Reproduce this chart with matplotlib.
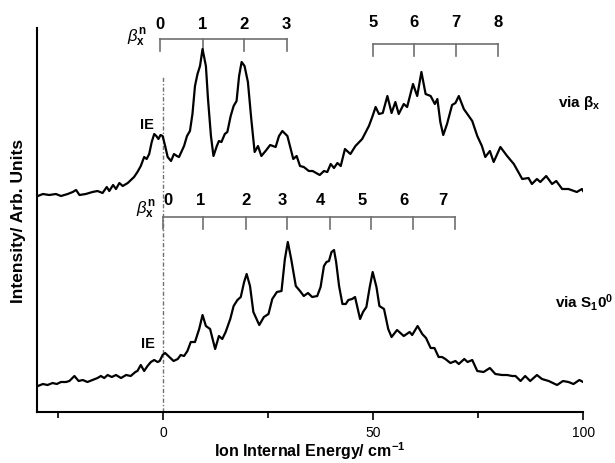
import numpy as np
import matplotlib.pyplot as plt

plt.rcParams["font.family"] = ["Liberation Sans", "DejaVu Sans"]
plt.rcParams["mathtext.fontset"] = "custom"
plt.rcParams["mathtext.rm"] = "Liberation Sans"
plt.rcParams["mathtext.it"] = "Liberation Sans:italic"
plt.rcParams["mathtext.bf"] = "Liberation Sans:bold"

# --- spectrum via beta_x (upper trace), energy in cm^-1, arbitrary intensity ---
via_bx_E = [-29.8, -28.6, -27.1, -25.5, -24.3, -22.7, -21.5, -20.7, -19.9, -18.4,
            -16.8, -15.6, -14.4, -13.4, -12.8, -11.9, -11.2, -10.4, -9.6, -8.4,
            -6.9, -6.1, -5.3, -4.5, -3.9, -3.3, -2.7, -2.1, -1.6, -1.1,
            -0.6, -0.1, 0.5, 1.1, 1.9, 2.6, 3.3, 3.8, 5.0, 5.7,
            6.4, 7.0, 7.6, 8.2, 8.8, 9.4, 10.2, 10.7, 11.4, 12.0,
            12.8, 13.3, 13.9, 14.7, 15.3, 16.1, 16.8, 17.5, 18.1, 18.7,
            19.4, 20.2, 21.0, 21.8, 22.6, 23.4, 24.4, 25.5, 26.8, 27.6,
            28.4, 29.6, 30.4, 31.0, 31.8, 32.6, 33.5, 34.7, 35.6, 37.3,
            38.3, 39.1, 39.9, 40.7, 41.5, 42.3, 43.3, 44.6, 45.8, 47.4,
            49.0, 49.8, 50.6, 51.4, 52.3, 53.4, 54.4, 55.3, 56.1, 57.3,
            58.1, 59.5, 60.5, 61.5, 62.5, 63.7, 64.7, 65.3, 66.0, 66.7,
            67.6, 68.8, 69.6, 70.4, 71.6, 73.6, 74.8, 75.9, 76.7, 77.8,
            78.7, 80.3, 81.9, 83.5, 85.5, 87.0, 87.8, 89.0, 89.8, 91.2,
            92.6, 93.6, 95.0, 96.5, 98.5, 99.7, 100.0]
via_bx_I = [216, 218, 217, 218, 216, 218, 220, 222, 217, 218,
            220, 221, 219, 225, 221, 227, 223, 229, 226, 229,
            235, 240, 246, 255, 253, 258, 270, 278, 276, 273,
            277, 276, 266, 255, 251, 258, 256, 255, 266, 276,
            281, 298, 326, 338, 346, 363, 346, 313, 276, 256,
            266, 271, 270, 278, 280, 296, 306, 311, 336, 350,
            346, 330, 293, 260, 266, 256, 261, 267, 265, 276,
            281, 276, 263, 253, 256, 246, 245, 241, 241, 237,
            241, 240, 248, 244, 249, 246, 263, 258, 266, 273,
            286, 295, 305, 298, 299, 316, 299, 310, 298, 308,
            305, 328, 316, 340, 318, 316, 308, 313, 290, 277,
            288, 307, 309, 316, 303, 291, 276, 266, 255, 261,
            250, 265, 256, 248, 233, 234, 228, 233, 230, 236,
            228, 231, 223, 223, 220, 223, 221]

# --- spectrum via S1 0^0 (lower trace) ---
via_s1_E = [-29.8, -28.6, -27.5, -26.3, -25.3, -24.3, -23.1, -22.3, -21.1, -20.1,
            -19.1, -18.0, -16.8, -15.6, -14.8, -14.0, -13.2, -12.2, -11.2, -10.0,
            -8.8, -7.7, -6.6, -6.1, -5.3, -4.5, -3.7, -2.9, -2.1, -1.3,
            -0.8, -0.1, 0.5, 1.5, 2.5, 3.5, 4.2, 5.0, 5.8, 6.6,
            7.6, 8.6, 9.4, 10.2, 11.2, 12.4, 13.3, 14.1, 14.9, 16.0,
            16.8, 17.7, 18.5, 19.3, 19.9, 20.7, 21.5, 22.9, 24.0, 25.1,
            26.0, 27.1, 28.2, 29.0, 29.7, 30.5, 31.6, 32.6, 33.5, 34.5,
            35.5, 36.7, 37.5, 38.3, 38.9, 39.5, 40.1, 40.7, 41.2, 41.9,
            42.7, 43.5, 44.1, 45.0, 45.7, 46.2, 46.9, 47.6, 48.4, 49.2,
            49.9, 50.8, 51.5, 52.6, 53.6, 54.4, 55.7, 57.3, 58.7, 59.3,
            60.6, 61.7, 62.6, 63.7, 64.6, 65.6, 66.4, 67.2, 68.4, 69.6,
            70.4, 71.7, 72.5, 73.6, 74.8, 76.3, 77.8, 79.1, 80.7, 81.9,
            83.1, 83.9, 85.1, 86.2, 87.4, 89.0, 90.2, 91.8, 93.8, 95.2,
            96.5, 97.7, 99.1, 100.0]
via_s1_I = [26, 28, 27, 29, 28, 30, 30, 31, 36, 31,
            32, 30, 32, 34, 36, 34, 37, 35, 37, 34,
            37, 36, 40, 41, 47, 41, 46, 50, 52, 50,
            51, 57, 59, 55, 51, 53, 57, 56, 61, 70,
            70, 83, 97, 86, 83, 63, 76, 73, 80, 93,
            106, 112, 115, 130, 138, 126, 100, 87, 95, 98,
            113, 120, 121, 153, 170, 153, 126, 121, 116, 119,
            115, 116, 125, 146, 150, 151, 160, 162, 150, 126,
            108, 108, 112, 113, 115, 106, 93, 100, 105, 125,
            140, 125, 106, 103, 83, 75, 82, 76, 80, 77,
            86, 78, 74, 64, 64, 55, 55, 53, 49, 51,
            48, 53, 50, 52, 41, 40, 44, 38, 37, 37,
            36, 36, 31, 36, 31, 37, 33, 31, 27, 31,
            30, 28, 32, 30]

# --- beta_x progression combs ---
comb_top_a = [-0.7, 9.4, 19.3, 29.4]
comb_top_a_lab = ["0", "1", "2", "3"]
comb_top_b = [49.9, 59.8, 69.8, 79.8]
comb_top_b_lab = ["5", "6", "7", "8"]
comb_low = [-0.1, 9.6, 19.7, 29.6, 39.7, 49.6, 59.5, 69.4]
comb_low_lab = ["0", "1", "2", "3", "4", "5", "6", "7"]
comb_low_lab_x = [1.1, 9.0, 19.7, 28.4, 37.5, 47.5, 57.3, 66.5]

fig = plt.figure(figsize=(6.15, 4.64), dpi=100)
ax = fig.add_axes([0.0602, 0.1099, 0.888, 0.8276])

ax.plot(via_bx_E, via_bx_I, color="black", lw=1.6, zorder=3)
ax.plot(via_s1_E, via_s1_I, color="black", lw=1.6, zorder=3)

# ionisation energy marker
ax.plot([0, 0], [0, 336], color="#707070", lw=1.0,
        linestyle=(0, (3, 1.5, 1, 1.5)), zorder=2)
ax.text(-3.9, 288, "IE", fontsize=10.5, fontweight="bold", ha="center", va="center")
ax.text(-3.6, 69, "IE", fontsize=10.5, fontweight="bold", ha="center", va="center")

comb_col = "#707070"


def draw_comb(xs, y_line, y_tick):
    ax.plot([xs[0], xs[-1]], [y_line, y_line], color=comb_col, lw=1.2, clip_on=False)
    for xc in xs:
        ax.plot([xc, xc], [y_line, y_tick], color=comb_col, lw=1.2, clip_on=False)


draw_comb(comb_top_a, 373, 361)
draw_comb(comb_top_b, 368, 356)
draw_comb(comb_low, 195, 183)

for xc, lab in zip(comb_top_a, comb_top_a_lab):
    ax.text(xc, 388, lab, fontsize=12, fontweight="bold", ha="center", va="center")
for xc, lab in zip(comb_top_b, comb_top_b_lab):
    ax.text(xc, 390, lab, fontsize=12, fontweight="bold", ha="center", va="center")
for xc, lab in zip(comb_low_lab_x, comb_low_lab):
    ax.text(xc, 213, lab, fontsize=12, fontweight="bold", ha="center", va="center")

ax.text(-6.2, 375, r"$\beta_\mathbf{x}^\mathbf{n}$", fontsize=12, ha="center", va="center")
ax.text(-4.1, 203, r"$\beta_\mathbf{x}^\mathbf{n}$", fontsize=12, ha="center", va="center")

ax.text(93.9, 310, r"via $\mathbf{\beta_x}$", fontsize=11, fontweight="bold", va="center")
ax.text(93.4, 111, r"via S$_\mathbf{1}$0$^\mathbf{0}$", fontsize=11, fontweight="bold",
        va="center")

ax.set_xlim(-30, 100)
ax.set_ylim(0, 384)
ax.set_xticks([0, 50, 100])
ax.set_xticks([-25, 25, 75], minor=True)
ax.set_yticks([])
ax.tick_params(axis="x", which="major", length=6, width=1.2, direction="out",
               labelsize=10, pad=3)
ax.tick_params(axis="x", which="minor", length=4, width=1.2, direction="out")
ax.spines["top"].set_visible(False)
ax.spines["right"].set_visible(False)
ax.spines["left"].set_linewidth(1.5)
ax.spines["bottom"].set_linewidth(1.5)

ax.set_xlabel(r"Ion Internal Energy/ cm$^\mathbf{-1}$", fontsize=11.5, fontweight="bold")
ax.xaxis.set_label_coords(0.5, -0.07)
ax.set_ylabel("Intensity/ Arb. Units", fontsize=12.5, fontweight="bold", labelpad=8)

fig.savefig("out.png", dpi=100)
